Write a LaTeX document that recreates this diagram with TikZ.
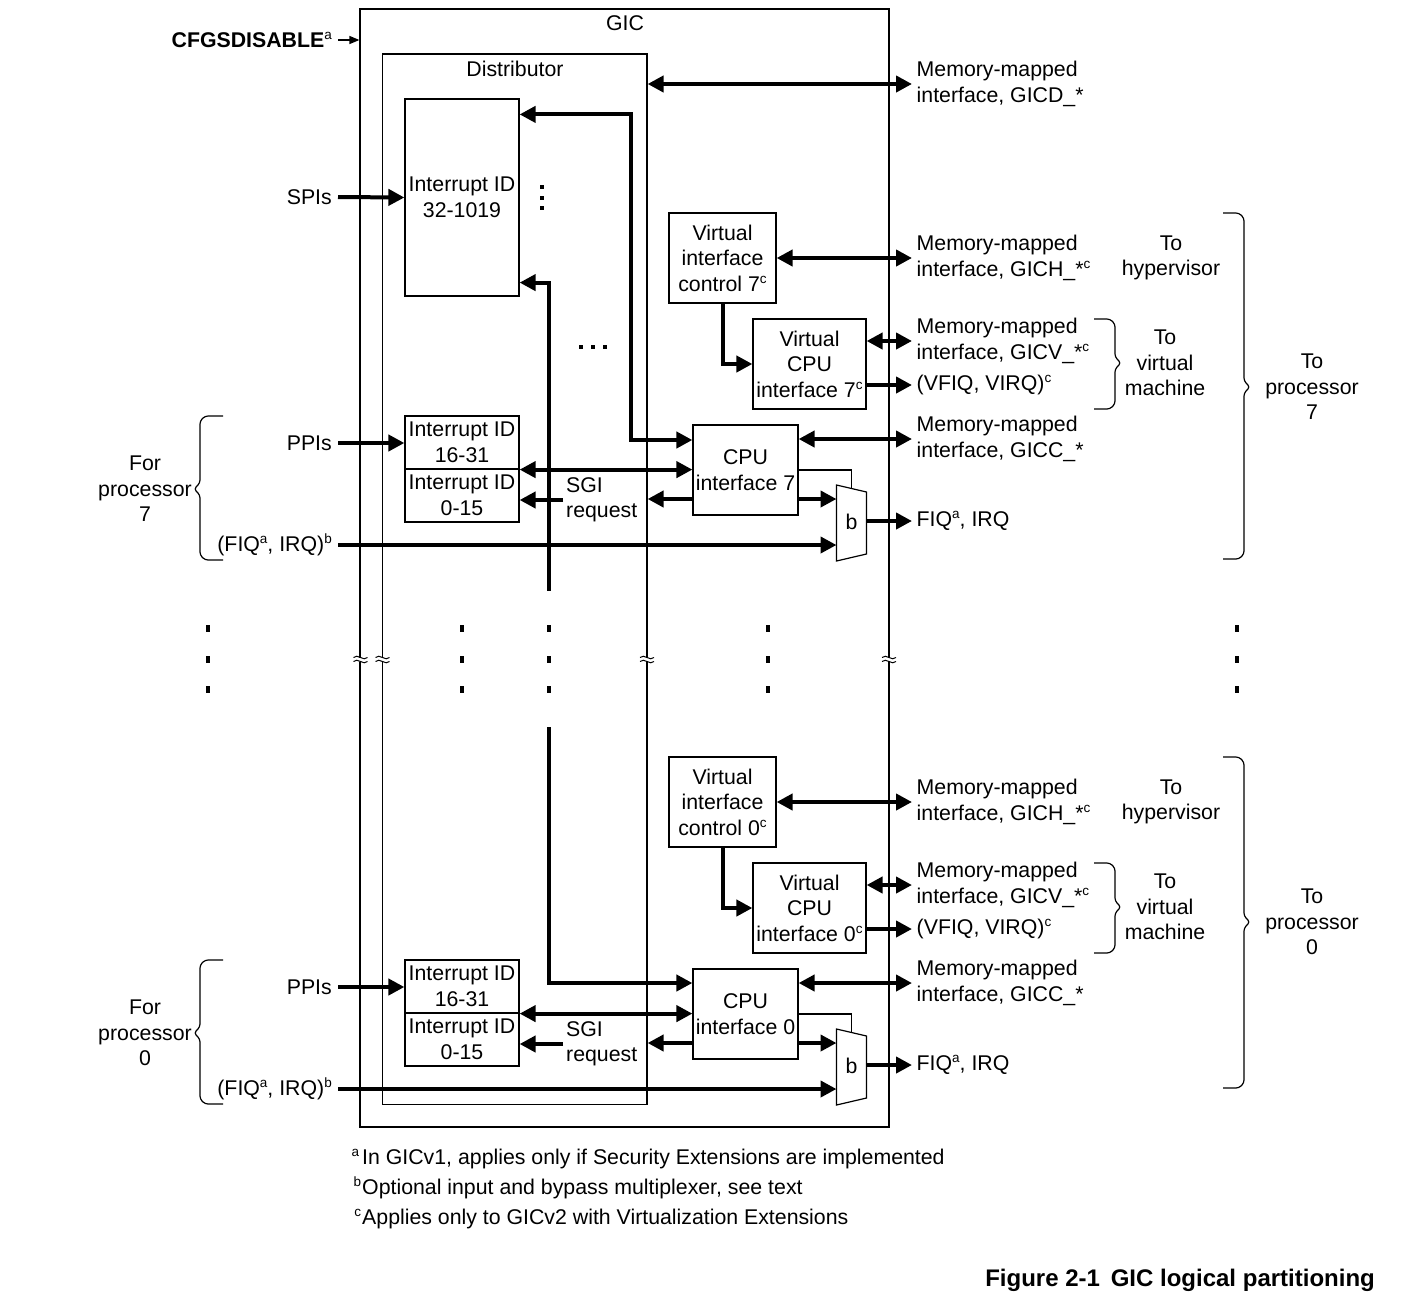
\documentclass[tikz,border=0pt]{standalone}
\usepackage{fontspec}
\setmainfont{Liberation Sans}
\usetikzlibrary{arrows.meta,calc}
\newcommand\sps[1]{\raisebox{0.72ex}{\fontsize{13.5}{13.5}\selectfont #1}}
\begin{document}
\begin{tikzpicture}[x=1pt,y=-1pt,font=\fontsize{21.3}{25.5}\selectfont,line join=miter,
  thinl/.style={line width=1.2pt},
  thk/.style={line width=4pt},
  box/.style={draw,line width=1.2pt,inner sep=0pt,align=center},
  arr/.style={thk,-{Triangle[length=16pt,width=16pt]}},
  rarr/.style={thk,{Triangle[length=16pt,width=16pt]}-},
  darr/.style={thk,{Triangle[length=16pt,width=16pt]}-{Triangle[length=16pt,width=16pt]}},
  rl/.style={anchor=west,align=left,inner ysep=0pt,inner xsep=4.5pt},
  ll/.style={anchor=east,align=center,inner ysep=0pt,inner xsep=6pt},
  ct/.style={align=center,inner sep=0pt},
  brace/.style={line width=1.2pt,rounded corners=3pt}]
\useasboundingbox (0,0) rectangle (1413,1302);
\fill[white] (0,0) rectangle (1413,1302);

% outer boxes
\node[box,minimum width=529,minimum height=1118] (gicbox) at (624.5,568) {};
\node[box,minimum width=264.5,minimum height=1050.5] (dist) at (514.75,579.25) {};
\node[ct] (giclbl) at (625,23) {GIC};
\node[ct] (distlbl) at (515,69) {Distributor};

% break marks
\foreach \bx in {360.5,382.5,647,889} {
  \fill[white] (\bx-3,657.5) rectangle (\bx+3,661.5);
  \draw[line width=1pt] (\bx-7,657.5) .. controls (\bx-3,653) and (\bx+3,662) .. (\bx+7,657.5);
  \draw[line width=1pt] (\bx-7,661.5) .. controls (\bx-3,657) and (\bx+3,666) .. (\bx+7,661.5);
}

% CFGSDISABLE
\node[ll] (cfg) at (338,40) {\textbf{CFGSDISABLE}\sps{a}};
\draw[line width=1.3pt,-{Triangle[length=10pt,width=8pt]}] (cfg.east) -- (cfg.east -| gicbox.west);

% SPI block
\node[box,minimum width=114,minimum height=197] (ibig) at (462,197.5) {Interrupt ID\\32-1019};
\node[ll] (spi) at (338,197) {SPIs};
\draw[arr] (spi.east) -- (ibig.west);
\foreach \yy in {187,197.5,208} \fill (539.5,\yy-2) rectangle (543.5,\yy+2);
\foreach \xx in {581,593,605} \fill (\xx-2,345) rectangle (\xx+2,349);

% GICD
\node[rl] (gicd) at (912,84) {Memory-mapped\\interface, GICD\_*};
\draw[darr] (gicd.west -| dist.east) -- (gicd.west);

% processor groups
\foreach \p/\dy/\bt/\bm/\bb in {7/0/213/387/559, 0/544/757/922/1088} {
  \node[box,minimum width=114,minimum height=53] (ia\p) at (462,442.5+\dy) {Interrupt ID\\16-31};
  \node[box,minimum width=114,minimum height=53] (ib\p) at (462,495.5+\dy) {Interrupt ID\\0-15};
  \node[box,minimum width=105,minimum height=90] (cpu\p) at (745.5,470+\dy) {CPU\\interface \p};
  \node[box,minimum width=107,minimum height=90] (vic\p) at (722.5,258+\dy) {Virtual\\interface\\control \p\sps{c}};
  \node[box,minimum width=113,minimum height=90] (vcpu\p) at (809.5,364+\dy) {Virtual\\CPU\\interface \p\sps{c}};
  % mux
  \node[ct] (mux\p) at (851.5,522+\dy) {b};
  \draw[thinl] ($(mux\p)+(-15,-37)$) -- ($(mux\p)+(15,-30)$) -- ($(mux\p)+(15,32)$) -- ($(mux\p)+(-15,39)$) -- cycle;
  \coordinate (mi1\p) at ($(mux\p)+(-15,-23)$);
  \coordinate (mi2\p) at ($(mux\p)+(-15,23)$);
  \coordinate (mt\p) at ($(mux\p)+(0,-33.5)$);
  \coordinate (mo\p) at ($(mux\p)+(15,-1)$);
  \coordinate (cs\p) at ($(cpu\p.west)+(0,29)$);
  % right labels
  \node[rl] (gich\p) at (912,258+\dy) {Memory-mapped\\interface, GICH\_*\sps{c}};
  \node[rl] (gicv\p) at (912,341+\dy) {Memory-mapped\\interface, GICV\_*\sps{c}};
  \node[rl] (virq\p) at (912,385+\dy) {(VFIQ, VIRQ)\sps{c}};
  \node[rl] (gicc\p) at (912,439+\dy) {Memory-mapped\\interface, GICC\_*};
  \node[rl] (fiq\p) at (912,521+\dy) {FIQ\sps{a}, IRQ};
  \node[ct] (hyp\p) at (1171,258+\dy) {To\\hypervisor};
  \node[ct] (vm\p) at (1165,363+\dy) {To\\virtual\\machine};
  \node[ct] (tp\p) at (1312,\bm) {To\\processor\\\p};
  % left labels
  \node[ll] (ppi\p) at (338,443+\dy) {PPIs};
  \node[ll] (fin\p) at (338,545+\dy) {(FIQ\sps{a}, IRQ)\sps{b}};
  \node[ct] (forp\p) at (145,489+\dy) {For\\processor\\\p};
  \node[anchor=west,align=left,inner ysep=0pt,inner xsep=3pt] (sgi\p) at (563,500+\dy) {SGI\\request};
  % connectors
  \draw[arr] (ppi\p.east) -- (ppi\p.east -| ia\p.west);
  \draw[arr] (fin\p.east) -- (mi2\p);
  \draw[darr] (ia\p.south east) -- (ia\p.south east -| cpu\p.west);
  \draw[arr] (sgi\p.west) -- (sgi\p.west -| ib\p.east);
  \draw[arr] (cs\p) -- (cs\p -| dist.east);
  \draw[arr] (cpu\p.east |- mi1\p) -- (mi1\p);
  \draw[thinl] (cpu\p.east) -| (mt\p);
  \draw[arr] (mo\p) -- (fiq\p.west);
  \draw[darr] (cpu\p.east |- gicc\p.west) -- (gicc\p.west);
  \draw[darr] (vic\p.east |- gich\p.west) -- (gich\p.west);
  \draw[arr] (vic\p.south) |- (vcpu\p.west);
  \draw[darr] (vcpu\p.east |- gicv\p.west) -- (gicv\p.west);
  \draw[arr] (vcpu\p.east |- virq\p.west) -- (virq\p.west);
  % braces
  \draw[brace] (1094,319+\dy) -- (1110,319+\dy) -- (1115,324+\dy) -- (1115,357+\dy) -- (1121,363+\dy) -- (1115,369+\dy) -- (1115,404+\dy) -- (1110,409+\dy) -- (1094,409+\dy);
  \draw[brace] (1223,\bt) -- (1239,\bt) -- (1244,\bt+5) -- (1244,\bm-6) -- (1250,\bm) -- (1244,\bm+6) -- (1244,\bb-5) -- (1239,\bb) -- (1223,\bb);
  \draw[brace] (223,416+\dy) -- (205,416+\dy) -- (200,421+\dy) -- (200,483+\dy) -- (194,489+\dy) -- (200,495+\dy) -- (200,555+\dy) -- (205,560+\dy) -- (223,560+\dy);
}

% connections from SPI block
\draw[darr] ($(ibig.north east)+(0,16)$) -| ($(cpu7.west)+(-61,-30)$) -- ($(cpu7.west)+(0,-30)$);
\coordinate (brk1) at (548.5,591);
\coordinate (brk2) at (548.5,727);
\draw[rarr] ($(ibig.south east)+(0,-14)$) -| (brk1);
\draw[arr] (brk2) |- ($(cpu0.west)+(0,-31)$);

% vertical ellipsis dots
\foreach \dx in {208,462,548.5,768,1237}
  \foreach \dyy in {628,659,689}
    \fill (\dx-2,\dyy-3.5) rectangle (\dx+2,\dyy+3.5);

% footnotes
\node[anchor=base west,inner sep=0pt] (fna) at (362,1164.5) {\llap{\sps{a}\hspace{3pt}}In GICv1, applies only if Security Extensions are implemented};
\node[anchor=base west,inner sep=0pt] (fnb) at (362,1194.5) {\llap{\sps{b}\hspace{1pt}}Optional input and bypass multiplexer, see text};
\node[anchor=base west,inner sep=0pt] (fnc) at (362,1224.5) {\llap{\sps{c}\hspace{1pt}}Applies only to GICv2 with Virtualization Extensions};
\node[anchor=base east,inner sep=0pt,font=\fontsize{24}{28}\selectfont] (cap) at (1375,1286) {\textbf{Figure 2-1\hspace{0.45em}GIC logical partitioning}};
\end{tikzpicture}
\end{document}
